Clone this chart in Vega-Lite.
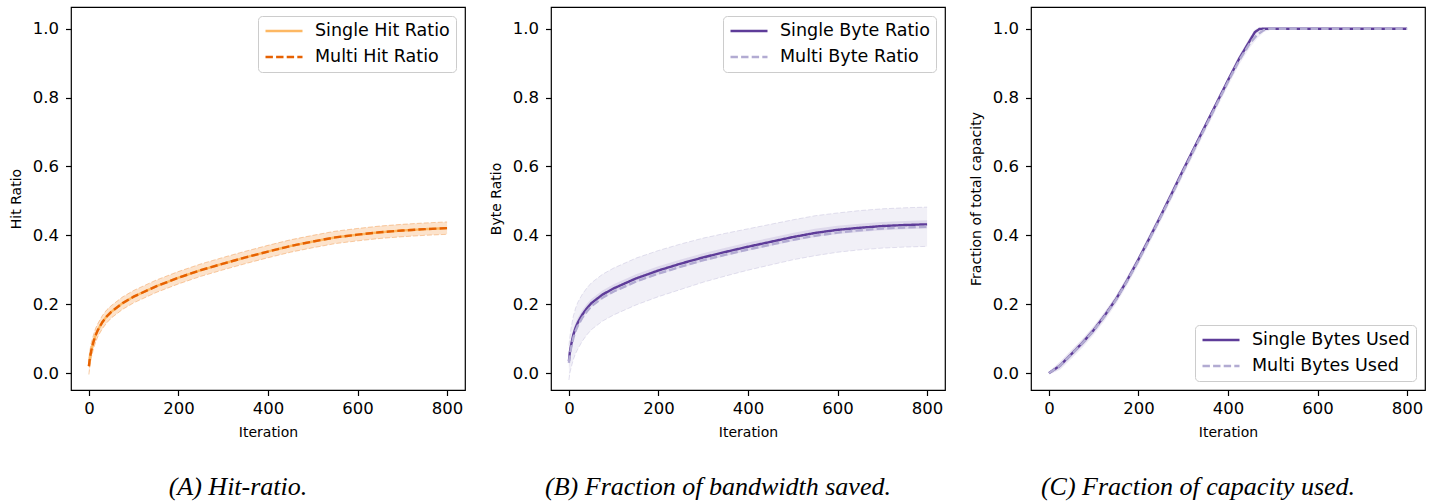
{
  "$schema": "https://vega.github.io/schema/vega-lite/v6.json",
  "background": "white",
  "padding": {"left": 8, "top": 6, "right": 5, "bottom": 5},
  "spacing": 86,
  "bounds": "flush",
  "resolve": {"scale": {"color": "independent", "strokeDash": "independent"}, "legend": {"color": "independent", "strokeDash": "independent"}},
  "datasets": {
    "a": [
      {"it":0,"v":0.02,"lo":-0.004,"hi":0.044},{"it":2,"v":0.042,"lo":0.02,"hi":0.064},{"it":5,"v":0.064,"lo":0.042,"hi":0.086},{"it":10,"v":0.09,"lo":0.07,"hi":0.11},{"it":15,"v":0.11,"lo":0.09,"hi":0.13},{"it":20,"v":0.125,"lo":0.106,"hi":0.144},{"it":30,"v":0.148,"lo":0.129,"hi":0.167},{"it":40,"v":0.165,"lo":0.146,"hi":0.184},{"it":50,"v":0.178,"lo":0.16,"hi":0.196},{"it":75,"v":0.203,"lo":0.185,"hi":0.221},{"it":100,"v":0.222,"lo":0.204,"hi":0.24},{"it":150,"v":0.252,"lo":0.234,"hi":0.27},{"it":200,"v":0.277,"lo":0.259,"hi":0.295},{"it":250,"v":0.299,"lo":0.281,"hi":0.317},{"it":300,"v":0.318,"lo":0.3,"hi":0.336},{"it":350,"v":0.336,"lo":0.318,"hi":0.354},{"it":400,"v":0.353,"lo":0.335,"hi":0.371},{"it":450,"v":0.369,"lo":0.351,"hi":0.387},{"it":500,"v":0.382,"lo":0.364,"hi":0.4},{"it":550,"v":0.394,"lo":0.376,"hi":0.412},{"it":600,"v":0.402,"lo":0.384,"hi":0.42},{"it":650,"v":0.409,"lo":0.391,"hi":0.427},{"it":700,"v":0.414,"lo":0.396,"hi":0.432},{"it":750,"v":0.418,"lo":0.4,"hi":0.436},{"it":800,"v":0.421,"lo":0.403,"hi":0.439}
    ],
    "bs": [
      {"it":0,"v":0.035,"lo":0.012,"hi":0.058},{"it":2,"v":0.06,"lo":0.04,"hi":0.08},{"it":5,"v":0.082,"lo":0.064,"hi":0.1},{"it":10,"v":0.112,"lo":0.096,"hi":0.128},{"it":15,"v":0.132,"lo":0.117,"hi":0.147},{"it":20,"v":0.147,"lo":0.133,"hi":0.161},{"it":30,"v":0.17,"lo":0.157,"hi":0.183},{"it":40,"v":0.188,"lo":0.175,"hi":0.201},{"it":50,"v":0.203,"lo":0.191,"hi":0.215},{"it":75,"v":0.228,"lo":0.216,"hi":0.24},{"it":100,"v":0.246,"lo":0.234,"hi":0.258},{"it":150,"v":0.275,"lo":0.263,"hi":0.287},{"it":200,"v":0.298,"lo":0.286,"hi":0.31},{"it":250,"v":0.318,"lo":0.306,"hi":0.33},{"it":300,"v":0.336,"lo":0.324,"hi":0.348},{"it":350,"v":0.352,"lo":0.34,"hi":0.364},{"it":400,"v":0.367,"lo":0.355,"hi":0.379},{"it":450,"v":0.381,"lo":0.369,"hi":0.393},{"it":500,"v":0.395,"lo":0.383,"hi":0.407},{"it":550,"v":0.407,"lo":0.395,"hi":0.419},{"it":600,"v":0.416,"lo":0.404,"hi":0.428},{"it":650,"v":0.422,"lo":0.41,"hi":0.434},{"it":700,"v":0.427,"lo":0.415,"hi":0.439},{"it":750,"v":0.43,"lo":0.418,"hi":0.442},{"it":800,"v":0.432,"lo":0.42,"hi":0.444}
    ],
    "bm": [
      {"it":0,"v":0.03,"lo":-0.02,"hi":0.08},{"it":2,"v":0.052,"lo":0.0,"hi":0.104},{"it":5,"v":0.074,"lo":0.016,"hi":0.132},{"it":10,"v":0.103,"lo":0.04,"hi":0.166},{"it":15,"v":0.123,"lo":0.057,"hi":0.189},{"it":20,"v":0.138,"lo":0.07,"hi":0.206},{"it":30,"v":0.161,"lo":0.093,"hi":0.229},{"it":40,"v":0.179,"lo":0.111,"hi":0.247},{"it":50,"v":0.194,"lo":0.126,"hi":0.262},{"it":75,"v":0.219,"lo":0.151,"hi":0.287},{"it":100,"v":0.237,"lo":0.169,"hi":0.305},{"it":150,"v":0.266,"lo":0.198,"hi":0.334},{"it":200,"v":0.289,"lo":0.222,"hi":0.356},{"it":250,"v":0.309,"lo":0.243,"hi":0.375},{"it":300,"v":0.328,"lo":0.264,"hi":0.392},{"it":350,"v":0.344,"lo":0.282,"hi":0.406},{"it":400,"v":0.359,"lo":0.299,"hi":0.419},{"it":450,"v":0.373,"lo":0.314,"hi":0.432},{"it":500,"v":0.387,"lo":0.329,"hi":0.445},{"it":550,"v":0.399,"lo":0.341,"hi":0.457},{"it":600,"v":0.408,"lo":0.351,"hi":0.465},{"it":650,"v":0.415,"lo":0.358,"hi":0.472},{"it":700,"v":0.42,"lo":0.363,"hi":0.477},{"it":750,"v":0.423,"lo":0.366,"hi":0.48},{"it":800,"v":0.425,"lo":0.368,"hi":0.482}
    ],
    "cs": [
      {"it":0,"v":0,"lo":-0.004,"hi":0.004},{"it":25,"v":0.022,"lo":0.012,"hi":0.032},{"it":50,"v":0.055,"lo":0.045,"hi":0.065},{"it":75,"v":0.088,"lo":0.078,"hi":0.098},{"it":100,"v":0.125,"lo":0.115,"hi":0.135},{"it":125,"v":0.168,"lo":0.158,"hi":0.178},{"it":150,"v":0.215,"lo":0.205,"hi":0.225},{"it":175,"v":0.27,"lo":0.26,"hi":0.28},{"it":200,"v":0.33,"lo":0.32,"hi":0.34},{"it":225,"v":0.393,"lo":0.383,"hi":0.403},{"it":250,"v":0.457,"lo":0.447,"hi":0.467},{"it":275,"v":0.523,"lo":0.513,"hi":0.533},{"it":300,"v":0.59,"lo":0.58,"hi":0.6},{"it":325,"v":0.655,"lo":0.645,"hi":0.665},{"it":350,"v":0.72,"lo":0.71,"hi":0.73},{"it":375,"v":0.785,"lo":0.775,"hi":0.795},{"it":400,"v":0.85,"lo":0.84,"hi":0.86},{"it":425,"v":0.913,"lo":0.903,"hi":0.923},{"it":450,"v":0.968,"lo":0.958,"hi":0.978},{"it":460,"v":0.99,"lo":0.982,"hi":0.998},{"it":470,"v":0.999,"lo":0.994,"hi":1.004},{"it":480,"v":1.0,"lo":0.997,"hi":1.003},{"it":500,"v":1.0,"lo":0.997,"hi":1.003},{"it":600,"v":1.0,"lo":0.997,"hi":1.003},{"it":700,"v":1.0,"lo":0.997,"hi":1.003},{"it":800,"v":1.0,"lo":0.997,"hi":1.003}
    ],
    "cm": [
      {"it":0,"v":0,"lo":-0.005,"hi":0.005},{"it":25,"v":0.022,"lo":0.01,"hi":0.034},{"it":50,"v":0.054,"lo":0.041,"hi":0.067},{"it":75,"v":0.087,"lo":0.074,"hi":0.1},{"it":100,"v":0.124,"lo":0.111,"hi":0.137},{"it":125,"v":0.166,"lo":0.153,"hi":0.179},{"it":150,"v":0.213,"lo":0.2,"hi":0.226},{"it":175,"v":0.268,"lo":0.255,"hi":0.281},{"it":200,"v":0.327,"lo":0.314,"hi":0.34},{"it":225,"v":0.39,"lo":0.377,"hi":0.403},{"it":250,"v":0.454,"lo":0.441,"hi":0.467},{"it":275,"v":0.519,"lo":0.506,"hi":0.532},{"it":300,"v":0.586,"lo":0.573,"hi":0.599},{"it":325,"v":0.651,"lo":0.638,"hi":0.664},{"it":350,"v":0.716,"lo":0.703,"hi":0.729},{"it":375,"v":0.781,"lo":0.768,"hi":0.794},{"it":400,"v":0.846,"lo":0.833,"hi":0.859},{"it":425,"v":0.908,"lo":0.895,"hi":0.921},{"it":450,"v":0.96,"lo":0.947,"hi":0.973},{"it":465,"v":0.982,"lo":0.971,"hi":0.993},{"it":480,"v":0.996,"lo":0.99,"hi":1.002},{"it":495,"v":1.0,"lo":0.997,"hi":1.003},{"it":600,"v":1.0,"lo":0.997,"hi":1.003},{"it":700,"v":1.0,"lo":0.997,"hi":1.003},{"it":800,"v":1.0,"lo":0.997,"hi":1.003}
    ]
  },
  "hconcat": [
    {
      "width": 394, "height": 383,
      "title": {"text": "(A) Hit-ratio.", "orient": "bottom", "anchor": "middle", "dx": -30, "offset": 35},
      "encoding": {
        "x": {"field": "it", "type": "quantitative", "title": "Iteration", "scale": {"domain": [-40, 840], "nice": false, "zero": false}, "axis": {"values": [0, 200, 400, 600, 800]}}
      },
      "layer": [
        {"data": {"name": "a"}, "mark": {"type": "area", "color": "#fdb863", "opacity": 0.13},
         "encoding": {"y": {"field": "lo", "type": "quantitative", "title": "Hit Ratio", "scale": {"domain": [-0.049, 1.063], "nice": false, "zero": false}, "axis": {"values": [0, 0.2, 0.4, 0.6, 0.8, 1.0], "format": ".1f"}}, "y2": {"field": "hi"}}},
        {"data": {"name": "a"}, "transform": [{"fold": ["lo", "hi"], "as": ["edge", "ev"]}], "mark": {"type": "line", "color": "#fdb863", "opacity": 0.25, "strokeWidth": 1, "strokeDash": [5, 2]},
         "encoding": {"y": {"field": "ev", "type": "quantitative", "title": "Hit Ratio", "scale": {"domain": [-0.049, 1.063], "nice": false, "zero": false}}, "detail": {"field": "edge"}}},
        {"data": {"name": "a"}, "mark": {"type": "area", "color": "#e66101", "opacity": 0.13},
         "encoding": {"y": {"field": "lo", "type": "quantitative", "title": "Hit Ratio", "scale": {"domain": [-0.049, 1.063], "nice": false, "zero": false}}, "y2": {"field": "hi"}}},
        {"data": {"name": "a"}, "transform": [{"fold": ["lo", "hi"], "as": ["edge", "ev"]}], "mark": {"type": "line", "color": "#e66101", "opacity": 0.2, "strokeWidth": 1, "strokeDash": [5, 2]},
         "encoding": {"y": {"field": "ev", "type": "quantitative", "title": "Hit Ratio", "scale": {"domain": [-0.049, 1.063], "nice": false, "zero": false}}, "detail": {"field": "edge"}}},
        {"data": {"name": "a"}, "transform": [{"fold": ["v"], "as": ["k", "val"]}, {"lookup": "k", "from": {"data": {"values": [{"k": "v", "s": "Single Hit Ratio"}]}, "key": "k", "fields": ["s"]}}],
         "mark": {"type": "line", "strokeWidth": 2.4},
         "encoding": {"y": {"field": "val", "type": "quantitative", "title": "Hit Ratio", "scale": {"domain": [-0.049, 1.063], "nice": false, "zero": false}},
           "color": {"field": "s", "type": "nominal", "scale": {"domain": ["Single Hit Ratio", "Multi Hit Ratio"], "range": ["#fdb863", "#e66101"]}, "legend": {"title": null, "orient": "top-right"}},
           "strokeDash": {"field": "s", "type": "nominal", "scale": {"domain": ["Single Hit Ratio", "Multi Hit Ratio"], "range": [[1, 0], [7.4, 3.2]]}, "legend": {"title": null, "orient": "top-right"}}}},
        {"data": {"name": "a"}, "transform": [{"fold": ["v"], "as": ["k", "val"]}, {"lookup": "k", "from": {"data": {"values": [{"k": "v", "s": "Multi Hit Ratio"}]}, "key": "k", "fields": ["s"]}}],
         "mark": {"type": "line", "strokeWidth": 2.4},
         "encoding": {"y": {"field": "val", "type": "quantitative", "title": "Hit Ratio", "scale": {"domain": [-0.049, 1.063], "nice": false, "zero": false}},
           "color": {"field": "s", "type": "nominal", "scale": {"domain": ["Single Hit Ratio", "Multi Hit Ratio"], "range": ["#fdb863", "#e66101"]}, "legend": {"title": null, "orient": "top-right"}},
           "strokeDash": {"field": "s", "type": "nominal", "scale": {"domain": ["Single Hit Ratio", "Multi Hit Ratio"], "range": [[1, 0], [7.4, 3.2]]}, "legend": {"title": null, "orient": "top-right"}}}}
      ]
    },
    {
      "width": 394, "height": 383,
      "title": {"text": "(B) Fraction of bandwidth saved.", "orient": "bottom", "anchor": "middle", "dx": -30, "offset": 35},
      "encoding": {
        "x": {"field": "it", "type": "quantitative", "title": "Iteration", "scale": {"domain": [-40, 840], "nice": false, "zero": false}, "axis": {"values": [0, 200, 400, 600, 800]}}
      },
      "layer": [
        {"data": {"name": "bm"}, "mark": {"type": "area", "color": "#b2abd2", "opacity": 0.18},
         "encoding": {"y": {"field": "lo", "type": "quantitative", "title": "Byte Ratio", "scale": {"domain": [-0.049, 1.063], "nice": false, "zero": false}, "axis": {"values": [0, 0.2, 0.4, 0.6, 0.8, 1.0], "format": ".1f"}}, "y2": {"field": "hi"}}},
        {"data": {"name": "bm"}, "transform": [{"fold": ["lo", "hi"], "as": ["edge", "ev"]}], "mark": {"type": "line", "color": "#b2abd2", "opacity": 0.35, "strokeWidth": 1, "strokeDash": [5, 2]},
         "encoding": {"y": {"field": "ev", "type": "quantitative", "title": "Byte Ratio", "scale": {"domain": [-0.049, 1.063], "nice": false, "zero": false}}, "detail": {"field": "edge"}}},
        {"data": {"name": "bs"}, "mark": {"type": "area", "color": "#5e3c99", "opacity": 0.12},
         "encoding": {"y": {"field": "lo", "type": "quantitative", "title": "Byte Ratio", "scale": {"domain": [-0.049, 1.063], "nice": false, "zero": false}}, "y2": {"field": "hi"}}},
        {"data": {"name": "bs"}, "transform": [{"fold": ["v"], "as": ["k", "val"]}, {"lookup": "k", "from": {"data": {"values": [{"k": "v", "s": "Single Byte Ratio"}]}, "key": "k", "fields": ["s"]}}],
         "mark": {"type": "line", "strokeWidth": 2.4},
         "encoding": {"y": {"field": "val", "type": "quantitative", "title": "Byte Ratio", "scale": {"domain": [-0.049, 1.063], "nice": false, "zero": false}},
           "color": {"field": "s", "type": "nominal", "scale": {"domain": ["Single Byte Ratio", "Multi Byte Ratio"], "range": ["#5e3c99", "#b2abd2"]}, "legend": {"title": null, "orient": "top-right"}},
           "strokeDash": {"field": "s", "type": "nominal", "scale": {"domain": ["Single Byte Ratio", "Multi Byte Ratio"], "range": [[1, 0], [7.4, 3.2]]}, "legend": {"title": null, "orient": "top-right"}}}},
        {"data": {"name": "bm"}, "transform": [{"fold": ["v"], "as": ["k", "val"]}, {"lookup": "k", "from": {"data": {"values": [{"k": "v", "s": "Multi Byte Ratio"}]}, "key": "k", "fields": ["s"]}}],
         "mark": {"type": "line", "strokeWidth": 2.4},
         "encoding": {"y": {"field": "val", "type": "quantitative", "title": "Byte Ratio", "scale": {"domain": [-0.049, 1.063], "nice": false, "zero": false}},
           "color": {"field": "s", "type": "nominal", "scale": {"domain": ["Single Byte Ratio", "Multi Byte Ratio"], "range": ["#5e3c99", "#b2abd2"]}, "legend": {"title": null, "orient": "top-right"}},
           "strokeDash": {"field": "s", "type": "nominal", "scale": {"domain": ["Single Byte Ratio", "Multi Byte Ratio"], "range": [[1, 0], [7.4, 3.2]]}, "legend": {"title": null, "orient": "top-right"}}}}
      ]
    },
    {
      "width": 394, "height": 383,
      "title": {"text": "(C) Fraction of capacity used.", "orient": "bottom", "anchor": "middle", "dx": -30, "offset": 35},
      "encoding": {
        "x": {"field": "it", "type": "quantitative", "title": "Iteration", "scale": {"domain": [-40, 840], "nice": false, "zero": false}, "axis": {"values": [0, 200, 400, 600, 800]}}
      },
      "layer": [
        {"data": {"name": "cs"}, "mark": {"type": "area", "color": "#5e3c99", "opacity": 0.1},
         "encoding": {"y": {"field": "lo", "type": "quantitative", "title": "Fraction of total capacity", "scale": {"domain": [-0.049, 1.063], "nice": false, "zero": false}, "axis": {"values": [0, 0.2, 0.4, 0.6, 0.8, 1.0], "format": ".1f"}}, "y2": {"field": "hi"}}},
        {"data": {"name": "cm"}, "mark": {"type": "area", "color": "#b2abd2", "opacity": 0.2},
         "encoding": {"y": {"field": "lo", "type": "quantitative", "title": "Fraction of total capacity", "scale": {"domain": [-0.049, 1.063], "nice": false, "zero": false}}, "y2": {"field": "hi"}}},
        {"data": {"name": "cs"}, "transform": [{"fold": ["v"], "as": ["k", "val"]}, {"lookup": "k", "from": {"data": {"values": [{"k": "v", "s": "Single Bytes Used"}]}, "key": "k", "fields": ["s"]}}],
         "mark": {"type": "line", "strokeWidth": 2.4},
         "encoding": {"y": {"field": "val", "type": "quantitative", "title": "Fraction of total capacity", "scale": {"domain": [-0.049, 1.063], "nice": false, "zero": false}},
           "color": {"field": "s", "type": "nominal", "scale": {"domain": ["Single Bytes Used", "Multi Bytes Used"], "range": ["#5e3c99", "#b2abd2"]}, "legend": {"title": null, "orient": "bottom-right"}},
           "strokeDash": {"field": "s", "type": "nominal", "scale": {"domain": ["Single Bytes Used", "Multi Bytes Used"], "range": [[1, 0], [7.4, 3.2]]}, "legend": {"title": null, "orient": "bottom-right"}}}},
        {"data": {"name": "cm"}, "transform": [{"fold": ["v"], "as": ["k", "val"]}, {"lookup": "k", "from": {"data": {"values": [{"k": "v", "s": "Multi Bytes Used"}]}, "key": "k", "fields": ["s"]}}],
         "mark": {"type": "line", "strokeWidth": 2.4},
         "encoding": {"y": {"field": "val", "type": "quantitative", "title": "Fraction of total capacity", "scale": {"domain": [-0.049, 1.063], "nice": false, "zero": false}},
           "color": {"field": "s", "type": "nominal", "scale": {"domain": ["Single Bytes Used", "Multi Bytes Used"], "range": ["#5e3c99", "#b2abd2"]}, "legend": {"title": null, "orient": "bottom-right"}},
           "strokeDash": {"field": "s", "type": "nominal", "scale": {"domain": ["Single Bytes Used", "Multi Bytes Used"], "range": [[1, 0], [7.4, 3.2]]}, "legend": {"title": null, "orient": "bottom-right"}}}}
      ]
    }
  ],
  "config": {
    "font": "DejaVu Sans",
    "view": {"stroke": "black", "strokeWidth": 1.2},
    "axis": {"domain": false, "grid": false, "tickColor": "black", "tickWidth": 1.2, "tickSize": 5.5, "labelFont": "DejaVu Sans", "labelFontSize": 16.5, "labelColor": "black", "labelPadding": 5, "labelFlush": false, "titleFont": "DejaVu Sans", "titleFontSize": 14, "titleFontWeight": "normal", "titleColor": "black", "titlePadding": 8},
    "axisY": {"titlePadding": 9, "labelPadding": 7},
    "legend": {"labelFont": "DejaVu Sans", "labelFontSize": 17.5, "labelColor": "black", "symbolType": "stroke", "symbolSize": 1369, "symbolStrokeWidth": 2.4, "strokeColor": "#cccccc", "fillColor": "rgba(255,255,255,0.8)", "cornerRadius": 4, "padding": 6, "rowPadding": 8, "clipHeight": 18, "labelOffset": 11, "offset": 9},
    "title": {"font": "Liberation Serif", "fontStyle": "italic", "fontSize": 26, "fontWeight": "normal", "color": "black"}
  }
}
